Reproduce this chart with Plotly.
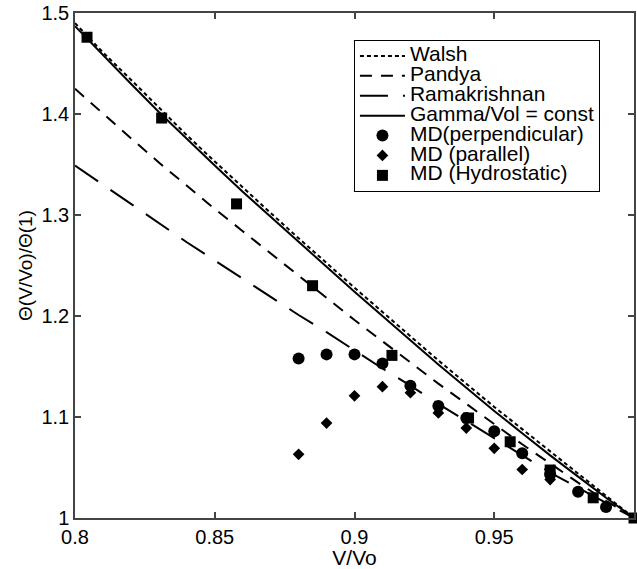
import plotly.graph_objects as go

# ---- data ----
v_grid = [0.80, 0.81, 0.82, 0.83, 0.84, 0.85, 0.86, 0.87, 0.88, 0.89, 0.90,
          0.91, 0.92, 0.93, 0.94, 0.95, 0.96, 0.97, 0.98, 0.99, 1.00]
walsh = [1.490, 1.461, 1.434, 1.406, 1.379, 1.353, 1.327, 1.302, 1.277, 1.252, 1.228,
         1.204, 1.180, 1.156, 1.133, 1.110, 1.088, 1.066, 1.044, 1.022, 1.000]
pandya = [1.425, 1.400, 1.376, 1.352, 1.329, 1.306, 1.284, 1.262, 1.240, 1.218, 1.196,
          1.175, 1.154, 1.133, 1.113, 1.093, 1.073, 1.054, 1.035, 1.017, 1.000]
ramakrishnan = [1.349, 1.330, 1.311, 1.292, 1.273, 1.255, 1.237, 1.219, 1.201, 1.184, 1.166,
                1.148, 1.131, 1.113, 1.096, 1.079, 1.062, 1.045, 1.030, 1.015, 1.000]
gamma_const = [1.487, 1.458, 1.430, 1.402, 1.375, 1.349, 1.323, 1.298, 1.273, 1.248, 1.224,
               1.200, 1.176, 1.152, 1.129, 1.106, 1.084, 1.062, 1.041, 1.020, 1.000]

md_perp_v = [0.88, 0.89, 0.90, 0.91, 0.92, 0.93, 0.94, 0.95, 0.96, 0.97, 0.98, 0.99]
md_perp = [1.158, 1.162, 1.162, 1.153, 1.131, 1.111, 1.099, 1.086, 1.064, 1.043, 1.026, 1.011]

md_par_v = [0.88, 0.89, 0.90, 0.91, 0.92, 0.93, 0.94, 0.95, 0.96, 0.97]
md_par = [1.063, 1.094, 1.121, 1.130, 1.124, 1.104, 1.089, 1.069, 1.048, 1.038]

md_hyd_v = [0.8043, 0.831, 0.8578, 0.885, 0.9134, 0.9408, 0.9557, 0.970, 0.9854, 1.0]
md_hyd = [1.476, 1.396, 1.311, 1.230, 1.161, 1.099, 1.0755, 1.0475, 1.020, 1.000]

x_ticks = [0.8, 0.85, 0.9, 0.95, 1.0]
x_ticklabels = ["0.8", "0.85", "0.9", "0.95", "1"]
y_ticks = [1.0, 1.1, 1.2, 1.3, 1.4, 1.5]
y_ticklabels = ["1", "1.1", "1.2", "1.3", "1.4", "1.5"]

FONT = "Liberation Sans, Arial, Helvetica, sans-serif"

def lab(s):
    return '<span style="font-size:21px">' + s + '</span>'

fig = go.Figure()
fig.add_trace(go.Scatter(x=v_grid, y=walsh, mode="lines", name=lab("Walsh"),
                         line=dict(color="black", width=2, dash="4px,3px")))
fig.add_trace(go.Scatter(x=v_grid, y=pandya, mode="lines", name=lab("Pandya"),
                         line=dict(color="black", width=2, dash="12px,9px")))
fig.add_trace(go.Scatter(x=v_grid, y=ramakrishnan, mode="lines", name=lab("Ramakrishnan"),
                         line=dict(color="black", width=2, dash="28px,15px")))
fig.add_trace(go.Scatter(x=v_grid, y=gamma_const, mode="lines", name=lab("Gamma/Vol = const"),
                         line=dict(color="black", width=2)))
fig.add_trace(go.Scatter(x=md_perp_v, y=md_perp, mode="markers", name=lab("MD(perpendicular)"),
                         marker=dict(symbol="circle", size=12, color="black"), cliponaxis=False))
fig.add_trace(go.Scatter(x=md_par_v, y=md_par, mode="markers", name=lab("MD (parallel)"),
                         marker=dict(symbol="diamond", size=9, color="black"), cliponaxis=False))
fig.add_trace(go.Scatter(x=md_hyd_v, y=md_hyd, mode="markers", name=lab("MD (Hydrostatic)"),
                         marker=dict(symbol="square", size=11, color="black"), cliponaxis=False))

axis_common = dict(showline=True, linecolor="#444", linewidth=1.5, mirror="allticks",
                   ticks="inside", ticklen=6, tickcolor="#444", tickwidth=1.5,
                   showgrid=False, zeroline=False,
                   tickfont=dict(family=FONT, size=20, color="black"))

# legend drop shadow (decorative box offset behind the legend), in paper units
shadow = dict(type="rect", xref="paper", yref="paper",
              x0=0.5045, x1=0.9376, y0=0.6475, y1=0.9406,
              fillcolor="black", line=dict(width=0), layer="above")

fig.update_layout(
    width=637, height=569,
    margin=dict(l=75, r=1, t=13, b=51),
    paper_bgcolor="white", plot_bgcolor="white",
    font=dict(family=FONT, color="black"),
    showlegend=True,
    legend=dict(x=0.499, y=0.9465, xanchor="left", yanchor="top",
                bgcolor="white", bordercolor="black", borderwidth=1,
                font=dict(family=FONT, size=13, color="black"),
                itemwidth=45, tracegroupgap=0),
    shapes=[shadow],
    xaxis=dict(range=[0.8, 1.0], tickvals=x_ticks, ticktext=x_ticklabels,
               title=dict(text="V/Vo", font=dict(family=FONT, size=21), standoff=0),
               **axis_common),
    yaxis=dict(range=[1.0, 1.5], tickvals=y_ticks, ticktext=y_ticklabels,
               title=dict(text="Θ(V/Vo)/Θ(1)", font=dict(family=FONT, size=19), standoff=4),
               **axis_common),
)

fig.write_html("out.html")
